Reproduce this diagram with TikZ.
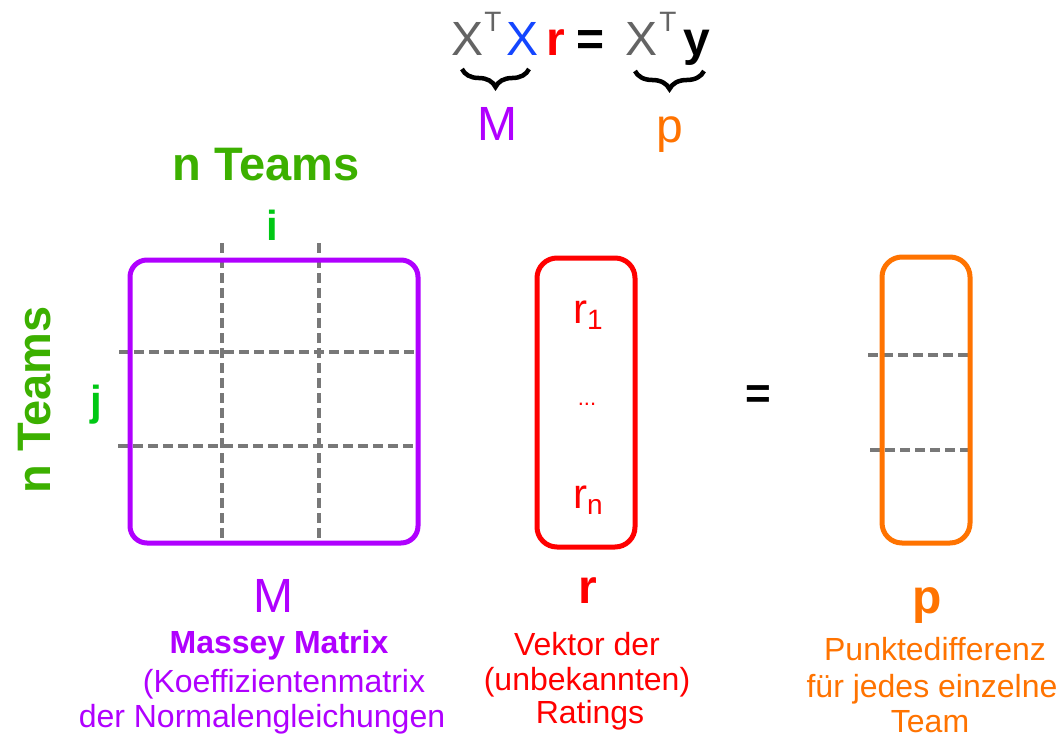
\documentclass[tikz,border=0pt]{standalone}
\usepackage{fontspec}
\setmainfont{Liberation Sans}
\usetikzlibrary{decorations.pathreplacing}
\definecolor{mpurple}{RGB}{176,0,255}
\definecolor{tgreen}{RGB}{60,176,0}
\definecolor{igreen}{RGB}{0,200,20}
\definecolor{morange}{RGB}{255,115,0}
\definecolor{mred}{RGB}{255,0,0}
\definecolor{mblue}{RGB}{20,70,255}
\definecolor{xgray}{RGB}{100,100,100}
\definecolor{dgray}{RGB}{120,120,120}
\newcommand{\fsz}[1]{\fontsize{#1}{#1}\selectfont}
\begin{document}
\begin{tikzpicture}[x=1pt,y=-1pt,
  txt/.style={inner sep=0pt, outer sep=0pt, anchor=base},
  gridline/.style={draw=dgray, line width=4pt, dash pattern=on 10pt off 5pt},
  boxline/.style={line width=5pt, rounded corners=17pt},
  bracestyle/.style={decorate, decoration={brace, mirror, amplitude=18pt}, line width=4.5pt}
]
\path[use as bounding box, fill=white] (0,0) rectangle (1064,739);

% equation
\node[txt, text=xgray] (x1) at (467,55) {\fsz{48}X};
\node[txt, text=xgray] (t1) at (493,31) {\fsz{28}T};
\node[txt, text=mblue] (x2) at (522,55) {\fsz{48}X};
\node[txt, text=mred] (req) at (556,55) {\fsz{48}\bfseries r};
\node[txt] (eq) at (591,55) {\fsz{48}\bfseries =};
\node[txt, text=xgray] (x3) at (641,55) {\fsz{48}X};
\node[txt, text=xgray] (t2) at (668,31) {\fsz{28}T};
\node[txt] (yeq) at (697,55) {\fsz{48}\bfseries y};
\draw[bracestyle] (462,69) -- (529,69);
\draw[bracestyle] (635,71) -- (704,71);
\node[txt, text=mpurple] (Mtop) at (497,140) {\fsz{48}M};
\node[txt, text=morange] (ptop) at (670,142) {\fsz{48}p};

% matrix labels
\node[txt, text=tgreen] (nteamstop) at (266,180) {\fsz{47}\bfseries n Teams};
\node[txt, text=tgreen, rotate=90] (nteamsleft) at (50,400) {\fsz{47}\bfseries n Teams};
\node[txt, text=igreen] (ilab) at (272,240) {\fsz{42}\bfseries i};
\node[txt, text=igreen] (jlab) at (96,415) {\fsz{42}\bfseries j};

% matrix M
\draw[gridline] (222,243) -- (222,545);
\draw[gridline] (319,243) -- (319,545);
\draw[gridline] (119,352) -- (417,352);
\draw[gridline] (118,446) -- (417,446);
\draw[boxline, draw=mpurple] (130,260) rectangle (418,543);

% vector r
\draw[boxline, draw=mred, rounded corners=20pt] (537,258) rectangle (635,547);
\node[txt, text=mred] (r1) at (588,323) {\fsz{42}r\raisebox{-6pt}{\fsz{28}1}};
\node[txt, text=mred] (rdots) at (587,405) {\fsz{22}...};
\node[txt, text=mred] (rn) at (588,508) {\fsz{42}r\raisebox{-6pt}{\fsz{28}n}};

% equals
\node[txt] (bigeq) at (758,408) {\fsz{44}\bfseries =};

% vector p
\draw[gridline] (868,355) -- (968,355);
\draw[gridline] (870,450) -- (968,450);
\draw[boxline, draw=morange, rounded corners=20pt] (882,257) rectangle (970,543);

% bottom labels
\node[txt, text=mpurple] (Mbot) at (273,612) {\fsz{48}M};
\node[txt, text=mpurple] (mass1) at (279,653) {\fsz{32}\bfseries Massey Matrix};
\node[txt, text=mpurple] (mass2) at (284,692) {\fsz{32}(Koeffizientenmatrix};
\node[txt, text=mpurple] (mass3) at (262,727) {\fsz{32}der Normalengleichungen};

\node[txt, text=mred] (rbot) at (588,603) {\fsz{48}\bfseries r};
\node[txt, text=mred] (rl1) at (587,655) {\fsz{32}Vektor der};
\node[txt, text=mred] (rl2) at (587,690) {\fsz{32}(unbekannten)};
\node[txt, text=mred] (rl3) at (590,723) {\fsz{32}Ratings};

\node[txt, text=morange] (pbot) at (927,613) {\fsz{48}\bfseries p};
\node[txt, text=morange] (pl1) at (935,660) {\fsz{32}Punktedifferenz};
\node[txt, text=morange] (pl2) at (932,697) {\fsz{32}für jedes einzelne};
\node[txt, text=morange] (pl3) at (930,732) {\fsz{32}Team};
\end{tikzpicture}
\end{document}
